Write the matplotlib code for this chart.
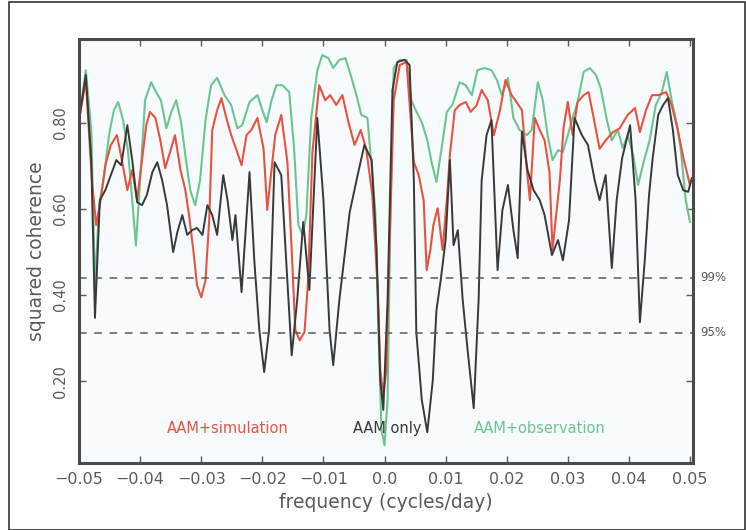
import matplotlib
matplotlib.use("Agg")
import matplotlib.pyplot as plt
import numpy as np
from matplotlib.patches import Rectangle

# squared coherence, frequency in cycles/day
freq_only = [-0.0500, -0.0489, -0.0480, -0.0474, -0.0466, -0.0457, -0.0448, -0.0439, -0.0431, -0.0421,
             -0.0413, -0.0405, -0.0397, -0.0389, -0.0380, -0.0372, -0.0364, -0.0356, -0.0346, -0.0339,
             -0.0331, -0.0323, -0.0315, -0.0307, -0.0298, -0.0290, -0.0282, -0.0274, -0.0264, -0.0257,
             -0.0249, -0.0244, -0.0234, -0.0221, -0.0213, -0.0205, -0.0197, -0.0189, -0.0180, -0.0169,
             -0.0161, -0.0152, -0.0143, -0.0133, -0.0123, -0.0110, -0.0100, -0.0090, -0.0084, -0.0074,
             -0.0057, -0.0044, -0.0033, -0.0021, -0.0013, -0.0007, -0.0002, 0.0005, 0.0013, 0.0021,
             0.0033, 0.0041, 0.0048, 0.0052, 0.0061, 0.0070, 0.0079, 0.0085, 0.0092, 0.0100,
             0.0107, 0.0113, 0.0120, 0.0128, 0.0136, 0.0146, 0.0154, 0.0159, 0.0167, 0.0175,
             0.0185, 0.0193, 0.0202, 0.0211, 0.0218, 0.0225, 0.0234, 0.0244, 0.0254, 0.0262,
             0.0274, 0.0284, 0.0292, 0.0302, 0.0311, 0.0323, 0.0333, 0.0344, 0.0352, 0.0362,
             0.0372, 0.0380, 0.0389, 0.0402, 0.0411, 0.0418, 0.0426, 0.0433, 0.0439, 0.0448,
             0.0456, 0.0464, 0.0472, 0.0480, 0.0489, 0.0497, 0.0503]
coh_only = [0.807, 0.912, 0.714, 0.347, 0.621, 0.644, 0.679, 0.714, 0.702, 0.795,
            0.714, 0.616, 0.609, 0.633, 0.686, 0.709, 0.667, 0.609, 0.500, 0.547,
            0.586, 0.540, 0.551, 0.556, 0.540, 0.609, 0.586, 0.540, 0.679, 0.621,
            0.528, 0.586, 0.407, 0.686, 0.477, 0.319, 0.221, 0.319, 0.709, 0.679,
            0.481, 0.260, 0.388, 0.570, 0.412, 0.812, 0.621, 0.319, 0.237, 0.388,
            0.593, 0.679, 0.749, 0.714, 0.505, 0.202, 0.133, 0.388, 0.877, 0.942,
            0.947, 0.935, 0.667, 0.314, 0.156, 0.081, 0.202, 0.365, 0.435, 0.528,
            0.714, 0.516, 0.551, 0.388, 0.272, 0.137, 0.388, 0.667, 0.772, 0.807,
            0.458, 0.598, 0.656, 0.551, 0.486, 0.780, 0.691, 0.644, 0.621, 0.586,
            0.493, 0.528, 0.481, 0.574, 0.812, 0.772, 0.749, 0.667, 0.621, 0.679,
            0.463, 0.621, 0.719, 0.795, 0.621, 0.337, 0.481, 0.633, 0.719, 0.819,
            0.842, 0.858, 0.784, 0.679, 0.644, 0.640, 0.672]

freq_sim = [-0.0500, -0.0489, -0.0479, -0.0472, -0.0466, -0.0457, -0.0448, -0.0438, -0.0430, -0.0421,
            -0.0413, -0.0405, -0.0397, -0.0390, -0.0384, -0.0375, -0.0367, -0.0359, -0.0351, -0.0343,
            -0.0334, -0.0326, -0.0320, -0.0313, -0.0307, -0.0300, -0.0293, -0.0287, -0.0282, -0.0274,
            -0.0267, -0.0259, -0.0251, -0.0243, -0.0234, -0.0226, -0.0218, -0.0208, -0.0198, -0.0192,
            -0.0185, -0.0179, -0.0169, -0.0159, -0.0152, -0.0146, -0.0139, -0.0131, -0.0125, -0.0118,
            -0.0107, -0.0097, -0.0089, -0.0079, -0.0069, -0.0059, -0.0049, -0.0039, -0.0030, -0.0020,
            -0.0011, -0.0007, -0.0002, 0.0003, 0.0008, 0.0015, 0.0025, 0.0036, 0.0043, 0.0048,
            0.0056, 0.0064, 0.0069, 0.0075, 0.0080, 0.0087, 0.0095, 0.0102, 0.0107, 0.0115,
            0.0123, 0.0133, 0.0141, 0.0151, 0.0159, 0.0169, 0.0179, 0.0189, 0.0198, 0.0208,
            0.0216, 0.0225, 0.0233, 0.0238, 0.0246, 0.0254, 0.0262, 0.0270, 0.0275, 0.0280,
            0.0287, 0.0293, 0.0300, 0.0308, 0.0316, 0.0326, 0.0334, 0.0343, 0.0352, 0.0362,
            0.0374, 0.0385, 0.0398, 0.0410, 0.0418, 0.0428, 0.0438, 0.0449, 0.0461, 0.0470,
            0.0480, 0.0490, 0.0500]
coh_sim = [0.807, 0.900, 0.667, 0.563, 0.609, 0.702, 0.749, 0.772, 0.714, 0.644,
           0.691, 0.621, 0.714, 0.795, 0.826, 0.812, 0.760, 0.695, 0.733, 0.772,
           0.691, 0.644, 0.586, 0.505, 0.423, 0.395, 0.435, 0.574, 0.784, 0.830,
           0.858, 0.812, 0.772, 0.740, 0.702, 0.772, 0.784, 0.812, 0.740, 0.598,
           0.691, 0.772, 0.819, 0.709, 0.505, 0.319, 0.295, 0.314, 0.435, 0.733,
           0.888, 0.853, 0.865, 0.842, 0.865, 0.802, 0.749, 0.784, 0.740, 0.633,
           0.412, 0.226, 0.167, 0.226, 0.505, 0.853, 0.935, 0.942, 0.807, 0.709,
           0.679, 0.621, 0.458, 0.505, 0.563, 0.602, 0.505, 0.621, 0.726, 0.830,
           0.842, 0.849, 0.826, 0.842, 0.877, 0.853, 0.772, 0.830, 0.900, 0.865,
           0.849, 0.830, 0.691, 0.621, 0.812, 0.784, 0.760, 0.686, 0.505, 0.574,
           0.667, 0.788, 0.849, 0.772, 0.849, 0.865, 0.872, 0.807, 0.740, 0.760,
           0.779, 0.788, 0.819, 0.835, 0.779, 0.830, 0.865, 0.865, 0.872, 0.842,
           0.784, 0.714, 0.656]

freq_obs = [-0.0500, -0.0489, -0.0480, -0.0474, -0.0467, -0.0459, -0.0451, -0.0443, -0.0436, -0.0428,
            -0.0420, -0.0413, -0.0407, -0.0400, -0.0392, -0.0382, -0.0374, -0.0366, -0.0357, -0.0349,
            -0.0341, -0.0333, -0.0325, -0.0318, -0.0310, -0.0302, -0.0293, -0.0284, -0.0274, -0.0262,
            -0.0251, -0.0241, -0.0233, -0.0221, -0.0208, -0.0200, -0.0193, -0.0185, -0.0177, -0.0167,
            -0.0156, -0.0148, -0.0141, -0.0134, -0.0128, -0.0120, -0.0110, -0.0102, -0.0092, -0.0084,
            -0.0074, -0.0064, -0.0054, -0.0046, -0.0038, -0.0028, -0.0020, -0.0015, -0.0010, -0.0005,
            0.0000, 0.0005, 0.0010, 0.0015, 0.0025, 0.0036, 0.0044, 0.0051, 0.0061, 0.0070,
            0.0077, 0.0085, 0.0093, 0.0102, 0.0111, 0.0123, 0.0133, 0.0143, 0.0152, 0.0164,
            0.0175, 0.0184, 0.0192, 0.0202, 0.0211, 0.0221, 0.0233, 0.0241, 0.0251, 0.0259,
            0.0267, 0.0275, 0.0284, 0.0292, 0.0300, 0.0308, 0.0316, 0.0326, 0.0336, 0.0346,
            0.0354, 0.0364, 0.0372, 0.0382, 0.0390, 0.0398, 0.0407, 0.0415, 0.0425, 0.0434,
            0.0444, 0.0454, 0.0462, 0.0470, 0.0479, 0.0485, 0.0493, 0.0500]
coh_obs = [0.807, 0.923, 0.784, 0.423, 0.609, 0.679, 0.772, 0.830, 0.849, 0.807,
           0.737, 0.621, 0.516, 0.667, 0.853, 0.895, 0.872, 0.853, 0.788, 0.826,
           0.853, 0.802, 0.714, 0.644, 0.609, 0.667, 0.807, 0.888, 0.905, 0.865,
           0.842, 0.788, 0.795, 0.849, 0.865, 0.830, 0.802, 0.853, 0.888, 0.888,
           0.872, 0.740, 0.563, 0.540, 0.586, 0.812, 0.923, 0.958, 0.951, 0.928,
           0.947, 0.951, 0.905, 0.865, 0.819, 0.812, 0.679, 0.593, 0.319, 0.086,
           0.051, 0.156, 0.621, 0.928, 0.947, 0.947, 0.853, 0.830, 0.802, 0.760,
           0.709, 0.663, 0.737, 0.826, 0.842, 0.895, 0.888, 0.865, 0.923, 0.928,
           0.923, 0.900, 0.865, 0.905, 0.812, 0.784, 0.772, 0.784, 0.895, 0.853,
           0.772, 0.714, 0.737, 0.733, 0.772, 0.812, 0.849, 0.919, 0.928, 0.912,
           0.881, 0.807, 0.760, 0.784, 0.742, 0.772, 0.726, 0.656, 0.714, 0.760,
           0.842, 0.872, 0.919, 0.853, 0.795, 0.737, 0.621, 0.570]

sig_levels = [0.44, 0.312]
sig_names = ["99%", "95%"]
xticks = [-0.05, -0.04, -0.03, -0.02, -0.01, 0.0, 0.01, 0.02, 0.03, 0.04, 0.05]
xtick_labels = ["\u22120.05", "\u22120.04", "\u22120.03", "\u22120.02", "\u22120.01", "0.0",
                "0.01", "0.02", "0.03", "0.04", "0.05"]
yticks = [0.2, 0.4, 0.6, 0.8]
ytick_labels = ["0.20", "0.40", "0.60", "0.80"]

red = '#e8523e'
dark = '#3b3838'
green = '#6cc590'
grey = '#5a5a5a'

fig = plt.figure(figsize=(7.46, 5.30), dpi=100)
ax = fig.add_axes([0.106, 0.126, 0.823, 0.800])
ax.set_facecolor('#f7fbfd')

ax.plot(freq_obs, coh_obs, color=green, lw=1.5)
ax.plot(freq_sim, coh_sim, color=red, lw=1.5)
ax.plot(freq_only, coh_only, color=dark, lw=1.4)

for lev, name in zip(sig_levels, sig_names):
    ax.axhline(lev, color=grey, lw=1.1, ls=(0, (5, 5)))
    ax.text(1.012, lev, name, transform=ax.get_yaxis_transform(), fontsize=8.5,
            color=grey, va='center', ha='left')

ax.text(-0.0257, 0.09, "AAM+simulation", color=red, fontsize=10.5, ha='center', va='center')
ax.text(0.0005, 0.09, "AAM only", color=dark, fontsize=10.5, ha='center', va='center')
ax.text(0.0254, 0.09, "AAM+observation", color=green, fontsize=10.5, ha='center', va='center')

ax.set_xlim(-0.05, 0.0505)
ax.set_ylim(0.009, 0.995)
ax.set_xticks(xticks)
ax.set_xticklabels(xtick_labels)
ax.set_yticks(yticks)
ax.set_yticklabels(ytick_labels, rotation=90, va='center')
ax.tick_params(direction='in', length=5, width=1, colors=grey, labelsize=10,
               top=True, right=True, labelcolor=grey)
ax.tick_params(axis='x', pad=6, labelsize=11.5)
ax.tick_params(axis='y', pad=8, labelsize=10.5)
for sp in ax.spines.values():
    sp.set_linewidth(2.2)
    sp.set_color('#4d4a48')

ax.set_xlabel("frequency (cycles/day)", fontsize=13.5, color=grey, labelpad=5)
ax.set_ylabel("squared coherence", fontsize=13.5, color=grey, labelpad=5)

fig.patches.append(Rectangle((9 / 746, 0.0), 1 - 9 / 746 - 0.001, 1 - 2 / 530, transform=fig.transFigure,
                             fill=False, edgecolor='#333333', lw=1.2))

fig.savefig("out.png", dpi=100)
